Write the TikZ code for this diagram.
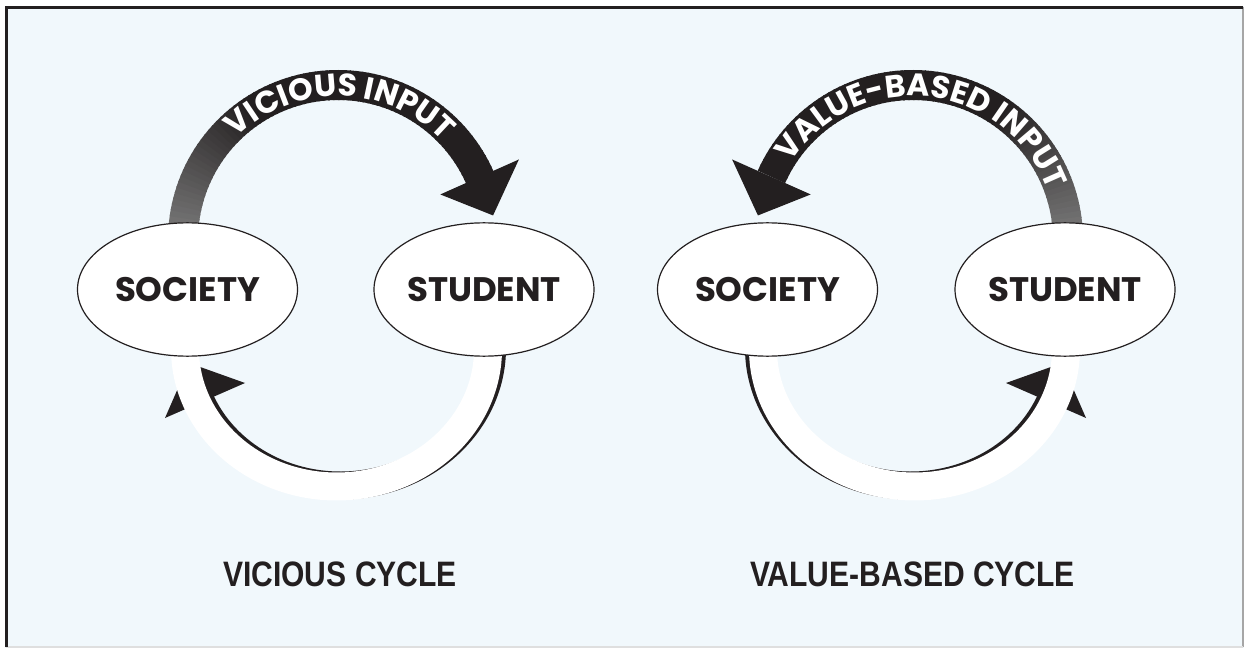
\documentclass[tikz,border=0pt]{standalone}
\usepackage{fontspec}
\usetikzlibrary{shapes.geometric,decorations.text}
\newfontfamily\poppins{Poppins}
\newfontfamily\capfam{Liberation Sans}[FakeStretch=0.85]
\newcommand\arcfont{\poppins\bfseries\fontsize{23.5pt}{23.5pt}\selectfont}
\definecolor{ink}{HTML}{231F20}
\definecolor{paper}{HTML}{F1F8FC}
\definecolor{fadeink}{HTML}{7A7A7A}

\begin{document}
\begin{tikzpicture}[x=0.75pt,y=-0.75pt,
  oval/.style={ellipse, draw=ink, line width=0.9pt, fill=white,
    minimum width=165pt, minimum height=100pt, inner sep=0pt,
    font=\poppins\bfseries\fontsize{25.5pt}{25.5pt}\selectfont, text=ink},
  caption/.style={anchor=base, font=\capfam\bfseries\fontsize{26.5pt}{26.5pt}\selectfont, text=ink},
  band/.style={line width=22.5pt},
  loopband/.style={line width=21pt},
  arctext/.style={decorate, decoration={text along path, text align=center,
    text color=white, text={|\arcfont|#1}}},
]
\useasboundingbox (0,0) rectangle (1244,648);

% panel
\fill[paper] (5,6) rectangle (1244,648);
\draw[gray!70, line width=1.5pt] (1243,7) -- (1243,647);
\draw[gray!25, line width=1pt] (6,647) -- (1243,647);
\draw[ink, line width=2.2pt] (6.5,647) -- (6.5,7.5) -- (1243,7.5);

% centres of the four arcs
\coordinate (tl) at (338,240);
\coordinate (tr) at (913,240);
\coordinate (bl) at (336.5,349);
\coordinate (br) at (914.5,349);

% upper left: vicious input, grey at the base fading to black
\foreach \a in {180,182,...,334}{
  \pgfmathsetmacro\mixpct{min(100,(\a-180)*100/55)}
  \draw[band, draw=ink!\mixpct!fadeink] ([shift={(tl)}]\a:155) arc[start angle=\a, end angle=\a+2.6, radius=155];
}
\fill[ink] ([shift={(tl)}]336:112) -- ([shift={(tl)}]336:198) -- ([shift={(tl)}]351:157) -- cycle;
\path[arctext={VICIOUS INPUT}] ([shift={(tl)}]200:144) arc[start angle=200, end angle=342, radius=144];

% upper right: value-based input
\foreach \a in {204,206,...,358}{
  \pgfmathsetmacro\mixpct{min(100,(358-\a)*100/55)}
  \draw[band, draw=ink!\mixpct!fadeink] ([shift={(tr)}]\a:155) arc[start angle=\a, end angle=\a+2.6, radius=155];
}
\fill[ink] ([shift={(tr)}]204:112) -- ([shift={(tr)}]204:198) -- ([shift={(tr)}]189:157) -- cycle;
\path[arctext={VALUE-BASED INPUT}] ([shift={(tr)}]200:144) arc[start angle=200, end angle=352, radius=144];

% lower left: white loop with black shadow arrow
\draw[loopband, ink] ([shift={(bl)},shift={(4,-1)}]-5:151.5 and 137.5) arc[start angle=-5, end angle=158, x radius=151.5, y radius=137.5];
\fill[ink] (245,383) -- (165,418) -- (189,363) -- cycle;
\draw[loopband, white] ([shift={(bl)}]-5:151.5 and 137.5) arc[start angle=-5, end angle=185, x radius=151.5, y radius=137.5];

% lower right
\draw[loopband, ink] ([shift={(br)},shift={(-4,-1)}]185:151.5 and 137.5) arc[start angle=185, end angle=22, x radius=151.5, y radius=137.5];
\fill[ink] (1006,383) -- (1086,418) -- (1062,363) -- cycle;
\draw[loopband, white] ([shift={(br)}]185:151.5 and 137.5) arc[start angle=185, end angle=-5, x radius=151.5, y radius=137.5];

% the four actors
\node[oval] (soc1) at (187.5,289.5) {SOCIETY};
\node[oval] (stu1) at (484,289.5) {STUDENT};
\node[oval] (soc2) at (767.5,289.5) {SOCIETY};
\node[oval] (stu2) at (1065,289.5) {STUDENT};

% captions
\node[caption] (cap1) at (340,586) {VICIOUS CYCLE};
\node[caption] (cap2) at (912.5,586) {VALUE-BASED CYCLE};
\end{tikzpicture}
\end{document}
